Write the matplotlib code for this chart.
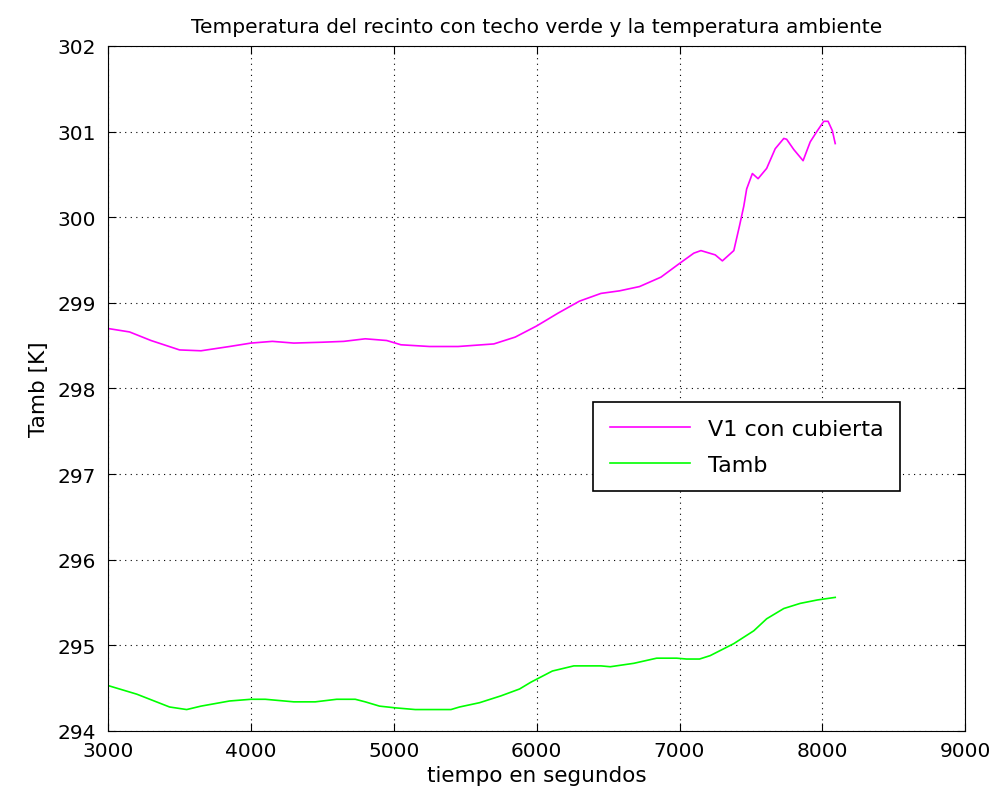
import matplotlib
matplotlib.use('Agg')
import matplotlib.pyplot as plt

# V1 con cubierta (magenta)
t_v1 = [3000, 3150, 3300, 3500, 3650, 3850, 4000, 4150, 4300, 4500, 4650, 4800, 4950,
        5050, 5250, 5450, 5700, 5850, 6000, 6150, 6300, 6450, 6580, 6720, 6870, 7000,
        7100, 7150, 7250, 7300, 7380, 7420, 7450, 7470, 7510, 7550, 7610, 7670, 7730,
        7750, 7800, 7865, 7915, 7965, 8010, 8040, 8070, 8090]
v1 = [298.70, 298.66, 298.56, 298.45, 298.44, 298.49, 298.53, 298.55, 298.53, 298.54,
      298.55, 298.58, 298.56, 298.51, 298.49, 298.49, 298.52, 298.60, 298.73, 298.88,
      299.02, 299.11, 299.14, 299.19, 299.30, 299.46, 299.58, 299.61, 299.56, 299.49,
      299.61, 299.90, 300.13, 300.33, 300.51, 300.45, 300.57, 300.80, 300.92, 300.91,
      300.79, 300.66, 300.88, 301.01, 301.12, 301.12, 301.01, 300.86]

# Tamb (green)
t_amb = [3000, 3200, 3430, 3550, 3650, 3850, 4000, 4100, 4300, 4450, 4600, 4730, 4800,
         4900, 5010, 5150, 5400, 5460, 5600, 5750, 5880, 5960, 6110, 6260, 6450, 6515,
         6680, 6840, 6980, 7050, 7140, 7215, 7380, 7520, 7610, 7730, 7845, 7965, 8090]
tamb = [294.53, 294.43, 294.28, 294.25, 294.29, 294.35, 294.37, 294.37, 294.34, 294.34,
        294.37, 294.37, 294.34, 294.29, 294.27, 294.25, 294.25, 294.28, 294.33, 294.41,
        294.49, 294.57, 294.70, 294.76, 294.76, 294.75, 294.79, 294.85, 294.85, 294.84,
        294.84, 294.88, 295.02, 295.17, 295.31, 295.43, 295.49, 295.53, 295.56]

xticks = [3000, 4000, 5000, 6000, 7000, 8000, 9000]
yticks = [294, 295, 296, 297, 298, 299, 300, 301, 302]

plt.rcParams['font.family'] = 'DejaVu Sans'
fig = plt.figure(figsize=(9.92, 8.04), dpi=100)
ax = fig.add_axes([0.109, 0.0896, 0.864, 0.852])

ax.plot(t_v1, v1, color='#ff00ff', lw=1.2, label='V1 con cubierta')
ax.plot(t_amb, tamb, color='#00ff00', lw=1.2, label='Tamb')

ax.set_xlim(3000, 9000)
ax.set_ylim(294, 302)
ax.set_xticks(xticks)
ax.set_yticks(yticks)
ax.tick_params(direction='in', top=True, right=True, labelsize=14.5, length=6)
ax.tick_params(axis='x', pad=7)
ax.tick_params(axis='y', pad=9)
ax.grid(True, color='black', linestyle=(0, (1, 4)), linewidth=0.8)
ax.set_title('Temperatura del recinto con techo verde y la temperatura ambiente',
             fontsize=14.5, pad=10)
ax.set_xlabel('tiempo en segundos', fontsize=15.5, labelpad=4)
ax.set_ylabel('Tamb [K]', fontsize=15.5, labelpad=6)

leg = ax.legend(loc='upper right', bbox_to_anchor=(0.924, 0.48), fontsize=16,
                fancybox=False, edgecolor='black', framealpha=1, borderaxespad=0,
                handlelength=3.6, labelspacing=0.72, borderpad=0.75)
leg.get_frame().set_linewidth(1.2)

fig.savefig('out.png', dpi=100)
